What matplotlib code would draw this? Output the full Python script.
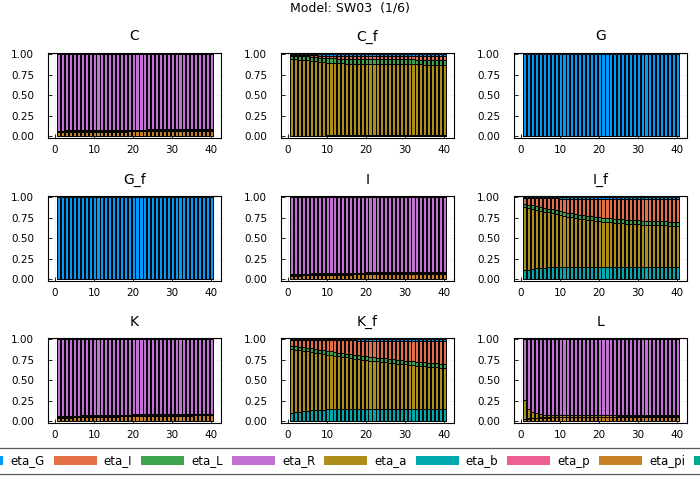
import numpy as np
import matplotlib.pyplot as plt
from matplotlib.patches import Patch

periods = np.arange(1, 41)
shocks = ["eta_G", "eta_I", "eta_L", "eta_R", "eta_a", "eta_b", "eta_p", "eta_pi", "eta_w"]
colors = ["#009AFA", "#E36F47", "#3EA44E", "#C371D2", "#AC8E18",
          "#00A9AD", "#ED5E93", "#C68225", "#00A98D"]
panel_names = ["C", "C_f", "G", "G_f", "I", "I_f", "K", "K_f", "L"]

# ---- C ----
C_eta_pi = [0.045, 0.046, 0.047, 0.048, 0.049, 0.050, 0.050, 0.051, 0.052, 0.052,
            0.053, 0.053, 0.054, 0.054, 0.055, 0.055, 0.056, 0.056, 0.057, 0.057,
            0.058, 0.058, 0.058, 0.059, 0.059, 0.060, 0.060, 0.060, 0.061, 0.061,
            0.061, 0.062, 0.062, 0.062, 0.063, 0.063, 0.063, 0.064, 0.064, 0.064]
C_eta_R = [0.930, 0.929, 0.928, 0.927, 0.926, 0.925, 0.925, 0.924, 0.923, 0.923,
           0.922, 0.922, 0.921, 0.921, 0.920, 0.920, 0.919, 0.919, 0.918, 0.918,
           0.917, 0.917, 0.917, 0.916, 0.916, 0.915, 0.915, 0.915, 0.914, 0.914,
           0.914, 0.913, 0.913, 0.913, 0.912, 0.912, 0.912, 0.911, 0.911, 0.911]
C_eta_small = {"eta_w": [0.003] * 40, "eta_p": [0.004] * 40,
               "eta_b": [0.006] * 40, "eta_a": [0.012] * 40}

# ---- C_f ----
Cf_eta_b = [0.002, 0.003, 0.004, 0.005, 0.006, 0.007, 0.008, 0.009, 0.010, 0.011,
            0.012, 0.013, 0.013, 0.014, 0.014, 0.015, 0.015, 0.016, 0.016, 0.016,
            0.017, 0.017, 0.017, 0.018, 0.018, 0.018, 0.018, 0.019, 0.019, 0.019,
            0.019, 0.019, 0.020, 0.020, 0.020, 0.020, 0.020, 0.020, 0.020, 0.020]
Cf_eta_a = [0.941, 0.935, 0.929, 0.924, 0.919, 0.911, 0.904, 0.898, 0.892, 0.887,
            0.883, 0.880, 0.877, 0.874, 0.872, 0.870, 0.869, 0.867, 0.866, 0.866,
            0.864, 0.864, 0.863, 0.862, 0.861, 0.861, 0.860, 0.859, 0.858, 0.858,
            0.857, 0.857, 0.855, 0.855, 0.854, 0.854, 0.853, 0.853, 0.852, 0.852]
Cf_eta_L = [0.040, 0.042, 0.044, 0.046, 0.048, 0.050, 0.052, 0.053, 0.054, 0.055,
            0.056, 0.056, 0.057, 0.057, 0.058, 0.058, 0.058, 0.059, 0.059, 0.059,
            0.060, 0.060, 0.060, 0.060, 0.060, 0.060, 0.060, 0.060, 0.060, 0.060,
            0.060, 0.060, 0.060, 0.060, 0.060, 0.060, 0.060, 0.060, 0.060, 0.060]
Cf_eta_I = [0.005, 0.008, 0.011, 0.014, 0.017, 0.020, 0.022, 0.024, 0.026, 0.028,
            0.029, 0.030, 0.031, 0.032, 0.033, 0.034, 0.034, 0.035, 0.035, 0.036,
            0.036, 0.037, 0.037, 0.038, 0.038, 0.039, 0.039, 0.040, 0.040, 0.040,
            0.041, 0.041, 0.041, 0.042, 0.042, 0.042, 0.043, 0.043, 0.043, 0.044]
Cf_eta_G = [0.012, 0.012, 0.012, 0.011, 0.010, 0.012, 0.014, 0.016, 0.018, 0.019,
            0.020, 0.021, 0.022, 0.023, 0.023, 0.023, 0.024, 0.023, 0.024, 0.023,
            0.023, 0.022, 0.023, 0.022, 0.023, 0.022, 0.023, 0.022, 0.023, 0.023,
            0.023, 0.023, 0.024, 0.023, 0.024, 0.024, 0.024, 0.024, 0.025, 0.024]

# ---- G, G_f ----
G_eta_G = [1.0] * 40
Gf_eta_G = [1.0] * 40

# ---- I ----
I_eta_pi = [0.040, 0.042, 0.043, 0.045, 0.046, 0.047, 0.048, 0.049, 0.050, 0.051,
            0.052, 0.053, 0.054, 0.055, 0.055, 0.056, 0.057, 0.057, 0.058, 0.059,
            0.059, 0.060, 0.060, 0.061, 0.061, 0.062, 0.062, 0.063, 0.063, 0.064,
            0.064, 0.065, 0.065, 0.065, 0.066, 0.066, 0.067, 0.067, 0.067, 0.068]
I_eta_R = [0.935, 0.933, 0.932, 0.930, 0.929, 0.928, 0.927, 0.926, 0.925, 0.924,
           0.923, 0.922, 0.921, 0.920, 0.920, 0.919, 0.918, 0.918, 0.917, 0.916,
           0.916, 0.915, 0.915, 0.914, 0.914, 0.913, 0.913, 0.912, 0.912, 0.911,
           0.911, 0.910, 0.910, 0.910, 0.909, 0.909, 0.908, 0.908, 0.908, 0.907]
I_eta_small = {"eta_w": [0.003] * 40, "eta_p": [0.004] * 40,
               "eta_b": [0.006] * 40, "eta_a": [0.012] * 40}

# ---- I_f ----
If_eta_b = [0.110, 0.118, 0.126, 0.133, 0.138, 0.142, 0.145, 0.148, 0.150, 0.152,
            0.153, 0.154, 0.155, 0.155, 0.155, 0.155, 0.155, 0.155, 0.154, 0.154,
            0.154, 0.153, 0.153, 0.152, 0.152, 0.151, 0.151, 0.150, 0.150, 0.150,
            0.149, 0.149, 0.148, 0.148, 0.148, 0.147, 0.147, 0.147, 0.146, 0.146]
If_eta_a = [0.768, 0.750, 0.732, 0.714, 0.699, 0.684, 0.670, 0.657, 0.644, 0.632,
            0.622, 0.611, 0.601, 0.592, 0.584, 0.577, 0.569, 0.563, 0.558, 0.552,
            0.548, 0.545, 0.541, 0.538, 0.534, 0.532, 0.528, 0.526, 0.522, 0.519,
            0.518, 0.516, 0.515, 0.513, 0.512, 0.511, 0.510, 0.508, 0.508, 0.507]
If_eta_L = [0.040, 0.041, 0.042, 0.043, 0.044, 0.045, 0.045, 0.046, 0.046, 0.047,
            0.047, 0.047, 0.047, 0.047, 0.048, 0.048, 0.048, 0.048, 0.048, 0.048,
            0.048, 0.048, 0.048, 0.048, 0.048, 0.048, 0.049, 0.049, 0.049, 0.049,
            0.049, 0.049, 0.049, 0.049, 0.049, 0.049, 0.049, 0.049, 0.049, 0.049]
If_eta_I = [0.070, 0.079, 0.088, 0.097, 0.106, 0.115, 0.126, 0.134, 0.145, 0.153,
            0.162, 0.171, 0.180, 0.188, 0.195, 0.202, 0.209, 0.215, 0.221, 0.226,
            0.230, 0.234, 0.238, 0.241, 0.245, 0.248, 0.251, 0.254, 0.257, 0.260,
            0.262, 0.264, 0.266, 0.268, 0.269, 0.271, 0.272, 0.274, 0.275, 0.276]
If_eta_G = [0.012, 0.012, 0.012, 0.013, 0.013, 0.014, 0.014, 0.015, 0.015, 0.016,
            0.016, 0.017, 0.017, 0.018, 0.018, 0.018, 0.019, 0.019, 0.019, 0.020,
            0.020, 0.020, 0.020, 0.021, 0.021, 0.021, 0.021, 0.021, 0.022, 0.022,
            0.022, 0.022, 0.022, 0.022, 0.022, 0.022, 0.022, 0.022, 0.022, 0.022]

# ---- K ----
K_eta_pi = [0.036, 0.038, 0.040, 0.042, 0.044, 0.045, 0.047, 0.048, 0.049, 0.050,
            0.051, 0.052, 0.053, 0.054, 0.055, 0.056, 0.057, 0.058, 0.058, 0.059,
            0.060, 0.061, 0.061, 0.062, 0.063, 0.063, 0.064, 0.065, 0.065, 0.066,
            0.066, 0.067, 0.067, 0.068, 0.068, 0.069, 0.069, 0.069, 0.070, 0.070]
K_eta_R = [0.939, 0.937, 0.935, 0.933, 0.931, 0.930, 0.928, 0.927, 0.926, 0.925,
           0.924, 0.923, 0.922, 0.921, 0.920, 0.919, 0.918, 0.917, 0.917, 0.916,
           0.915, 0.914, 0.914, 0.913, 0.912, 0.912, 0.911, 0.910, 0.910, 0.909,
           0.909, 0.908, 0.908, 0.907, 0.907, 0.906, 0.906, 0.906, 0.905, 0.905]
K_eta_small = {"eta_w": [0.003] * 40, "eta_p": [0.004] * 40,
               "eta_b": [0.006] * 40, "eta_a": [0.012] * 40}

# ---- K_f ----
Kf_eta_b = [0.105, 0.113, 0.120, 0.126, 0.131, 0.135, 0.138, 0.141, 0.143, 0.145,
            0.147, 0.148, 0.149, 0.150, 0.151, 0.151, 0.152, 0.152, 0.152, 0.152,
            0.152, 0.152, 0.151, 0.151, 0.151, 0.150, 0.150, 0.150, 0.149, 0.149,
            0.149, 0.148, 0.148, 0.148, 0.147, 0.147, 0.147, 0.146, 0.146, 0.146]
Kf_eta_a = [0.775, 0.761, 0.748, 0.735, 0.722, 0.710, 0.699, 0.688, 0.678, 0.668,
            0.659, 0.651, 0.643, 0.635, 0.627, 0.621, 0.613, 0.607, 0.601, 0.595,
            0.589, 0.583, 0.578, 0.573, 0.567, 0.563, 0.558, 0.553, 0.549, 0.544,
            0.539, 0.535, 0.531, 0.526, 0.523, 0.518, 0.514, 0.511, 0.507, 0.503]
Kf_eta_L = [0.040, 0.041, 0.042, 0.042, 0.043, 0.043, 0.044, 0.044, 0.045, 0.045,
            0.045, 0.046, 0.046, 0.046, 0.046, 0.047, 0.047, 0.047, 0.047, 0.047,
            0.048, 0.048, 0.048, 0.048, 0.048, 0.048, 0.048, 0.048, 0.048, 0.048,
            0.048, 0.048, 0.048, 0.048, 0.048, 0.049, 0.049, 0.049, 0.049, 0.049]
Kf_eta_I = [0.068, 0.073, 0.078, 0.085, 0.091, 0.099, 0.106, 0.114, 0.120, 0.128,
            0.135, 0.141, 0.147, 0.154, 0.161, 0.166, 0.173, 0.178, 0.184, 0.190,
            0.195, 0.201, 0.207, 0.211, 0.217, 0.222, 0.227, 0.232, 0.237, 0.242,
            0.247, 0.251, 0.255, 0.260, 0.264, 0.268, 0.272, 0.276, 0.280, 0.284]
Kf_eta_G = [0.012, 0.012, 0.012, 0.012, 0.013, 0.013, 0.013, 0.013, 0.014, 0.014,
            0.014, 0.014, 0.015, 0.015, 0.015, 0.015, 0.015, 0.016, 0.016, 0.016,
            0.016, 0.016, 0.016, 0.017, 0.017, 0.017, 0.017, 0.017, 0.017, 0.017,
            0.017, 0.018, 0.018, 0.018, 0.018, 0.018, 0.018, 0.018, 0.018, 0.018]

# ---- L ----
L_eta_pi = [0.025, 0.032, 0.037, 0.040, 0.043, 0.045, 0.046, 0.047, 0.048, 0.049,
            0.050, 0.050, 0.051, 0.051, 0.052, 0.052, 0.052, 0.053, 0.053, 0.053,
            0.054, 0.054, 0.054, 0.054, 0.055, 0.055, 0.055, 0.055, 0.055, 0.056,
            0.056, 0.056, 0.056, 0.056, 0.056, 0.057, 0.057, 0.057, 0.057, 0.057]
L_eta_a = [0.230, 0.109, 0.068, 0.051, 0.037, 0.030, 0.025, 0.022, 0.020, 0.018,
           0.017, 0.017, 0.016, 0.016, 0.015, 0.015, 0.015, 0.014, 0.014, 0.014,
           0.014, 0.013, 0.013, 0.013, 0.013, 0.013, 0.013, 0.013, 0.013, 0.012,
           0.012, 0.012, 0.012, 0.012, 0.012, 0.012, 0.012, 0.012, 0.012, 0.012]
L_eta_R = [0.740, 0.854, 0.890, 0.904, 0.915, 0.920, 0.924, 0.926, 0.927, 0.928,
           0.928, 0.928, 0.928, 0.928, 0.928, 0.928, 0.928, 0.928, 0.928, 0.928,
           0.927, 0.928, 0.928, 0.928, 0.927, 0.927, 0.927, 0.927, 0.927, 0.927,
           0.927, 0.927, 0.927, 0.927, 0.927, 0.926, 0.926, 0.926, 0.926, 0.926]
L_eta_small = {"eta_p": [0.002] * 40, "eta_b": [0.003] * 40}

panels = {
    "C": dict(eta_pi=C_eta_pi, eta_R=C_eta_R, **C_eta_small),
    "C_f": dict(eta_b=Cf_eta_b, eta_a=Cf_eta_a, eta_L=Cf_eta_L, eta_I=Cf_eta_I, eta_G=Cf_eta_G),
    "G": dict(eta_G=G_eta_G),
    "G_f": dict(eta_G=Gf_eta_G),
    "I": dict(eta_pi=I_eta_pi, eta_R=I_eta_R, **I_eta_small),
    "I_f": dict(eta_b=If_eta_b, eta_a=If_eta_a, eta_L=If_eta_L, eta_I=If_eta_I, eta_G=If_eta_G),
    "K": dict(eta_pi=K_eta_pi, eta_R=K_eta_R, **K_eta_small),
    "K_f": dict(eta_b=Kf_eta_b, eta_a=Kf_eta_a, eta_L=Kf_eta_L, eta_I=Kf_eta_I, eta_G=Kf_eta_G),
    "L": dict(eta_pi=L_eta_pi, eta_a=L_eta_a, eta_R=L_eta_R, **L_eta_small),
}

plt.rcParams["font.family"] = "DejaVu Sans"
fig = plt.figure(figsize=(7, 5), dpi=100)

col_left = [48, 281, 514]
row_top = [53, 196, 338]
ax_w, ax_h = 173, 85

for k, name in enumerate(panel_names):
    r, c = divmod(k, 3)
    ax = fig.add_axes([col_left[c] / 700, 1 - (row_top[r] + ax_h) / 500, ax_w / 700, ax_h / 500])
    bottom = np.zeros(40)
    # last shock goes at the bottom of the stack
    for s in reversed(range(len(shocks))):
        vals = np.array(panels[name].get(shocks[s], np.zeros(40)), dtype=float)
        ax.bar(periods, vals, width=0.8, bottom=bottom, color=colors[s],
               edgecolor="black", linewidth=0.7)
        bottom += vals
    ax.set_xlim(-1.8, 42.5)
    ax.set_ylim(-0.02, 1.015)
    ax.set_xticks([0, 10, 20, 30, 40])
    ax.set_yticks([0, 0.25, 0.5, 0.75, 1.0])
    ax.set_yticklabels(["0.00", "0.25", "0.50", "0.75", "1.00"])
    ax.tick_params(direction="in", length=3, labelsize=7.5, width=0.6)
    ax.tick_params(axis="y", pad=10)
    ax.tick_params(axis="x", pad=5)
    ax.grid(True, color="black", alpha=0.07, linewidth=0.5)
    ax.set_axisbelow(True)
    for sp in ax.spines.values():
        sp.set_linewidth(0.8)
    ax.set_title(name, fontsize=10, pad=9)

fig.text(0.5, 0.984, "Model: SW03  (1/6)", ha="center", va="center", fontsize=9)

handles = [Patch(facecolor=colors[i], edgecolor="none", label=shocks[i]) for i in range(len(shocks))]
leg = fig.legend(handles=handles, loc="center", bbox_to_anchor=(0.528, 0.078), ncol=9,
                 fontsize=8.5, frameon=True, fancybox=False, edgecolor="#333333",
                 handlelength=3.65, handleheight=0.85, handletextpad=0.6,
                 columnspacing=0.75, borderpad=0.55)
leg.get_frame().set_linewidth(0.9)

fig.savefig("out.png", dpi=100)
